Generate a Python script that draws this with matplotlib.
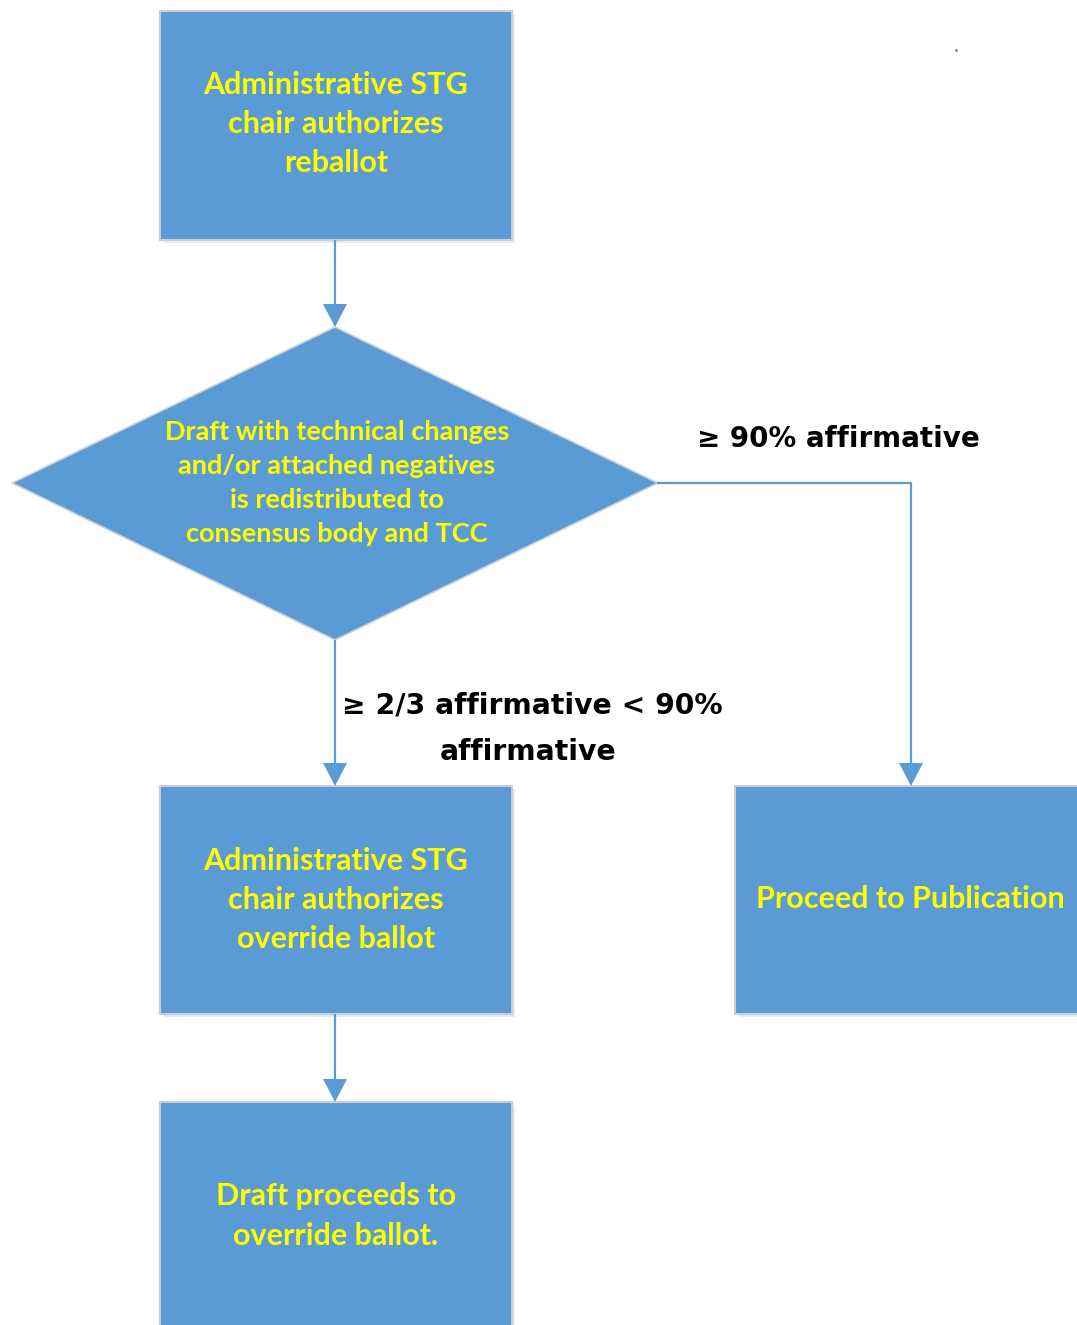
import matplotlib
matplotlib.use("Agg")
import matplotlib.pyplot as plt
from matplotlib.patches import Rectangle, Polygon

W, H = 1077, 1325
fill = "#5B9BD5"
edge = "#C9CED4"
txt_col = "#FFFF00"

# node texts
box_texts = [
    "Administrative STG\nchair authorizes\nreballot",
    "Administrative STG\nchair authorizes\noverride ballot",
    "Proceed to Publication",
    "Draft proceeds to\noverride ballot.",
]
diamond_text = ("Draft with technical changes\nand/or attached negatives\n"
                "is redistributed to\nconsensus body and TCC")
edge_labels = ["\u2265 90% affirmative", "\u2265 2/3 affirmative < 90%", "affirmative"]

# layout in pixel space (x0, y0, x1, y1)
boxes = [(160, 11, 512, 240), (160, 786, 512, 1014), (735, 786, 1090, 1014), (160, 1102, 512, 1340)]
box_text_y = [124, 900, 899, 1216]
dia = dict(cx=335, cy=483, left=12, right=658, top=327, bottom=640)

fig = plt.figure(figsize=(W / 100, H / 100), dpi=100)
ax = fig.add_axes([0, 0, 1, 1])
ax.set_xlim(0, W)
ax.set_ylim(H, 0)
ax.axis("off")

font = ["Lato", "DejaVu Sans"]

def arrow_head(x, y):
    # tip at (x, y), pointing down
    ax.add_patch(Polygon([(x - 12, y - 23), (x + 12, y - 23), (x, y)],
                         closed=True, fc=fill, ec="none", zorder=4))

def vline(x, y0, y1):
    ax.plot([x, x], [y0, y1 - 20], color=fill, lw=1.6, zorder=3, solid_capstyle="butt")
    arrow_head(x, y1)

for (x0, y0, x1, y1), t, ty in zip(boxes, box_texts, box_text_y):
    ax.add_patch(Rectangle((x0 + 3, y0 + 3), x1 - x0, y1 - y0, fc="#E6ECF2", ec="none", zorder=1))
    ax.add_patch(Rectangle((x0, y0), x1 - x0, y1 - y0, fc=fill, ec=edge, lw=1.5, zorder=2))
    ax.text((x0 + min(x1, 1088)) / 2 - (1 if x1 > W else 0), ty, t, color=txt_col, fontsize=22,
            fontweight="bold", family=font, ha="center", va="center",
            linespacing=1.5, zorder=5)

pts = [(dia["cx"], dia["top"]), (dia["right"], dia["cy"]),
       (dia["cx"], dia["bottom"]), (dia["left"], dia["cy"])]
ax.add_patch(Polygon(pts, closed=True, fc=fill, ec="#D0D4DA", lw=1.2, zorder=2))
ax.text(dia["cx"] + 2, dia["cy"], diamond_text, color=txt_col, fontsize=19.5,
        fontweight="bold", family=font, ha="center", va="center",
        linespacing=1.5, zorder=5)

# connectors
vline(335, 240, 327)
vline(335, 640, 786)
vline(335, 1014, 1102)
ax.plot([658, 911, 911], [483, 483, 766], color=fill, lw=1.6, zorder=3)
arrow_head(911, 786)

lab_font = ["DejaVu Sans"]
ax.text(697, 439, edge_labels[0], fontsize=20, fontweight="bold", family=lab_font,
        ha="left", va="center", color="black")
ax.text(342, 705, edge_labels[1], fontsize=20.3, fontweight="bold", family=lab_font,
        ha="left", va="center", color="black")
ax.text(528, 752, edge_labels[2], fontsize=20.3, fontweight="bold", family=lab_font,
        ha="center", va="center", color="black")

ax.plot([956], [50], marker="s", ms=1, color="#888888")

fig.savefig("out.png", dpi=100)
